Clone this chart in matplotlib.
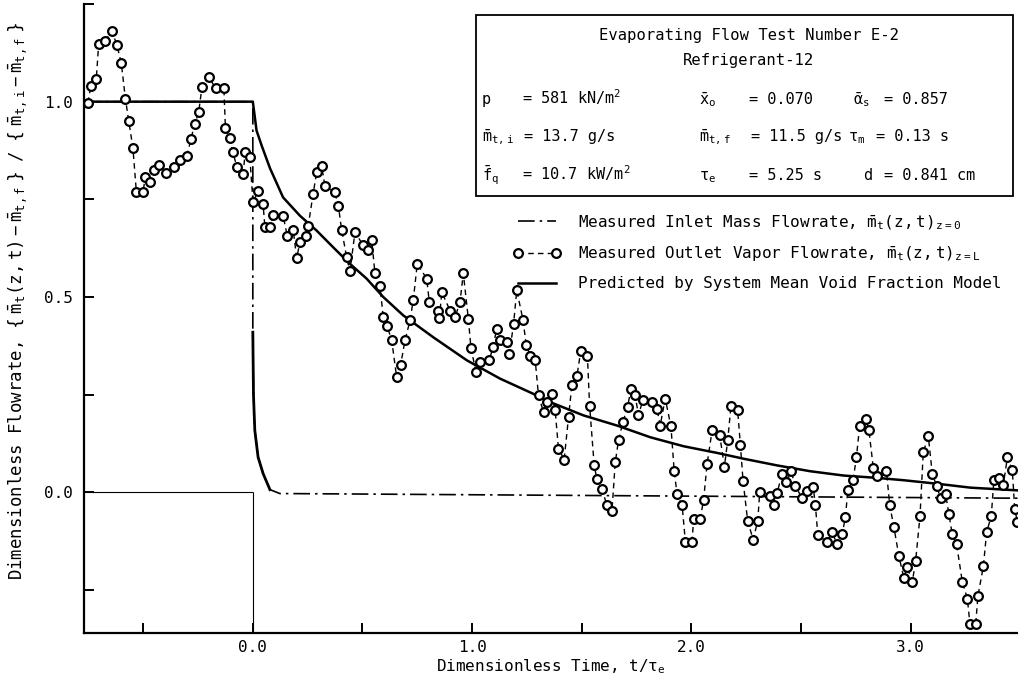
import matplotlib
matplotlib.use('Agg')
import matplotlib.pyplot as plt
from matplotlib.patches import Rectangle
from matplotlib.ticker import MultipleLocator, FormatStrFormatter

plt.rcParams['font.family'] = 'DejaVu Sans Mono'
plt.rcParams['mathtext.default'] = 'regular'
plt.rcParams['font.size'] = 11.5

# Measured outlet vapor flowrate (circles)
t_out = [-0.753, -0.738, -0.714, -0.703, -0.676, -0.642, -0.620, -0.600, -0.581, -0.566,
         -0.547, -0.531, -0.501, -0.490, -0.467, -0.452, -0.429, -0.394, -0.361, -0.330,
         -0.300, -0.282, -0.265, -0.247, -0.232, -0.201, -0.170, -0.132, -0.125, -0.106,
         -0.091, -0.072, -0.044, -0.035, -0.014, 0.001, 0.024, 0.047, 0.055, 0.078,
         0.093, 0.138, 0.157, 0.184, 0.200, 0.215, 0.242, 0.253, 0.275, 0.291,
         0.314, 0.329, 0.374, 0.390, 0.405, 0.428, 0.443, 0.466, 0.504, 0.526,
         0.542, 0.557, 0.580, 0.595, 0.611, 0.633, 0.656, 0.674, 0.694, 0.717,
         0.732, 0.750, 0.793, 0.805, 0.846, 0.851, 0.862, 0.900, 0.922, 0.945,
         0.960, 0.983, 0.995, 1.018, 1.037, 1.079, 1.095, 1.113, 1.128, 1.161,
         1.170, 1.189, 1.204, 1.232, 1.247, 1.265, 1.288, 1.303, 1.326, 1.341,
         1.364, 1.379, 1.394, 1.420, 1.440, 1.455, 1.478, 1.496, 1.526, 1.536,
         1.557, 1.569, 1.592, 1.615, 1.638, 1.653, 1.668, 1.688, 1.709, 1.725,
         1.744, 1.759, 1.779, 1.821, 1.843, 1.858, 1.881, 1.907, 1.922, 1.935,
         1.958, 1.973, 2.003, 2.011, 2.041, 2.056, 2.072, 2.095, 2.129, 2.151,
         2.166, 2.181, 2.211, 2.224, 2.236, 2.257, 2.282, 2.303, 2.312, 2.361,
         2.376, 2.391, 2.414, 2.434, 2.455, 2.475, 2.505, 2.528, 2.556, 2.566,
         2.577, 2.620, 2.642, 2.665, 2.688, 2.703, 2.714, 2.738, 2.753, 2.768,
         2.795, 2.810, 2.830, 2.848, 2.890, 2.905, 2.924, 2.947, 2.969, 2.985,
         3.008, 3.023, 3.043, 3.058, 3.081, 3.099, 3.119, 3.137, 3.160, 3.175,
         3.190, 3.210, 3.236, 3.259, 3.271, 3.297, 3.307, 3.332, 3.347, 3.368,
         3.380, 3.403, 3.423, 3.442, 3.464, 3.475, 3.487]
v_out = [0.997, 1.041, 1.058, 1.148, 1.156, 1.180, 1.145, 1.099, 1.007, 0.951,
         0.882, 0.768, 0.768, 0.808, 0.794, 0.825, 0.838, 0.817, 0.834, 0.851,
         0.862, 0.905, 0.943, 0.973, 1.037, 1.064, 1.034, 1.035, 0.933, 0.906,
         0.870, 0.832, 0.815, 0.870, 0.859, 0.742, 0.772, 0.737, 0.679, 0.679,
         0.711, 0.708, 0.657, 0.672, 0.600, 0.640, 0.657, 0.683, 0.764, 0.819,
         0.836, 0.783, 0.768, 0.734, 0.672, 0.602, 0.566, 0.666, 0.632, 0.621,
         0.646, 0.561, 0.527, 0.448, 0.427, 0.391, 0.295, 0.325, 0.389, 0.440,
         0.493, 0.585, 0.547, 0.487, 0.465, 0.447, 0.512, 0.465, 0.448, 0.487,
         0.561, 0.444, 0.369, 0.308, 0.333, 0.338, 0.372, 0.419, 0.389, 0.384,
         0.353, 0.430, 0.517, 0.442, 0.378, 0.350, 0.338, 0.248, 0.205, 0.231,
         0.252, 0.210, 0.112, 0.084, 0.194, 0.274, 0.297, 0.363, 0.350, 0.222,
         0.069, 0.035, 0.009, -0.033, -0.048, 0.077, 0.133, 0.180, 0.218, 0.265,
         0.248, 0.197, 0.237, 0.231, 0.214, 0.171, 0.240, 0.169, 0.054, -0.005,
         -0.033, -0.127, -0.127, -0.067, -0.067, -0.019, 0.073, 0.159, 0.148, 0.066,
         0.133, 0.222, 0.212, 0.120, 0.029, -0.073, -0.121, -0.073, 0.001, -0.010,
         -0.033, -0.002, 0.048, 0.026, 0.054, 0.015, -0.014, 0.003, 0.014, -0.033,
         -0.110, -0.127, -0.102, -0.133, -0.107, -0.063, 0.007, 0.031, 0.090, 0.171,
         0.188, 0.159, 0.063, 0.043, 0.054, -0.033, -0.089, -0.164, -0.218, -0.191,
         -0.229, -0.176, -0.061, 0.103, 0.143, 0.048, 0.015, -0.014, -0.005, -0.056,
         -0.107, -0.133, -0.229, -0.272, -0.338, -0.338, -0.266, -0.189, -0.102, -0.061,
         0.031, 0.038, 0.020, 0.090, 0.056, -0.042, -0.076]

# Predicted by system mean void fraction model
pred_t = [-0.77, 0.0, 0.017, 0.042, 0.078, 0.138, 0.215, 0.291, 0.367, 0.443, 0.519,
          0.595, 0.686, 0.823, 0.976, 1.128, 1.28, 1.356, 1.508, 1.661, 1.813, 1.965,
          2.117, 2.239, 2.391, 2.543, 2.695, 2.848, 2.969, 3.122, 3.274, 3.49]
pred_v = [1.0, 1.0, 0.926, 0.885, 0.83, 0.755, 0.708, 0.670, 0.627, 0.585, 0.547,
          0.500, 0.453, 0.397, 0.338, 0.291, 0.252, 0.231, 0.197, 0.171, 0.141, 0.118,
          0.101, 0.086, 0.069, 0.054, 0.043, 0.037, 0.031, 0.022, 0.012, 0.005]

# Measured inlet mass flowrate (step down at t=0)
inlet_t = [-0.77, 0.0, 0.0, 0.003, 0.009, 0.024, 0.047, 0.078, 0.123, 3.49]
inlet_v = [1.0, 1.0, 0.41, 0.25, 0.159, 0.09, 0.048, 0.007, -0.003, -0.015]

legend_labels = ['Measured Inlet Mass Flowrate, $\\bar{m}_t(z,t)_{z=0}$',
                 'Measured Outlet Vapor Flowrate, $\\bar{m}_t(z,t)_{z=L}$',
                 'Predicted by System Mean Void Fraction Model']

box_title = ['Evaporating Flow Test Number E-2', 'Refrigerant-12']
box_names = [['p', '$\\bar{x}_o$', '$\\bar{\\alpha}_s$'],
             ['$\\bar{m}_{t,i}$', '$\\bar{m}_{t,f}$', '$\\tau_m$'],
             ['$\\bar{f}_q$', '$\\tau_e$', 'd']]
box_values = [['= 581 kN/m$^2$', '= 0.070', '= 0.857'],
              ['= 13.7 g/s', '= 11.5 g/s', '= 0.13 s'],
              ['= 10.7 kW/m$^2$', '= 5.25 s', '= 0.841 cm']]

W, H = 1018, 687
L, R, T, B = 84, 1018, 4, 633


def axf(px, py):    # pixel position in the picture -> axes fraction
    return (px - L) / (R - L), (B - py) / (B - T)


fig = plt.figure(figsize=(W / 100, H / 100), dpi=100)
ax = fig.add_axes([L / W, 1 - B / H, (R - L) / W, (B - T) / H])
ax.set_xlim(-0.77, 3.49)
ax.set_ylim(-0.36, 1.25)

for s in ['top', 'right']:
    ax.spines[s].set_visible(False)
for s in ['left', 'bottom']:
    ax.spines[s].set_linewidth(1.6)

ax.xaxis.set_major_locator(MultipleLocator(1.0))
ax.xaxis.set_minor_locator(MultipleLocator(0.5))
ax.yaxis.set_major_locator(MultipleLocator(0.5))
ax.yaxis.set_minor_locator(MultipleLocator(0.25))
ax.xaxis.set_major_formatter(FormatStrFormatter('%.1f'))
ax.yaxis.set_major_formatter(FormatStrFormatter('%.1f'))
ax.tick_params(which='both', direction='in', length=7, width=1.4)
ax.tick_params(axis='y', which='major', pad=8)
ax.tick_params(axis='x', which='major', pad=5)

# thin reference lines through the origin
ax.hlines(0, -0.77, 0, color='black', lw=0.8)
ax.vlines(0, -0.36, 0, color='black', lw=0.8)

inlet_line, = ax.plot(inlet_t, inlet_v, color='black', lw=1.2,
                      linestyle=(0, (10, 3, 1.5, 3)))
ax.plot(inlet_t[2:8], inlet_v[2:8], color='black', lw=2.0)
pred_line, = ax.plot(pred_t, pred_v, color='black', lw=1.8)
meas_line, = ax.plot(t_out, v_out, color='black', lw=1.0, linestyle=(0, (4, 3)),
                     marker='o', ms=6.3, mfc='white', mec='black', mew=1.6, zorder=4)

ax.set_xlabel('Dimensionless Time, t/$\\tau_e$', labelpad=2)
ax.set_ylabel('Dimensionless Flowrate, $\\left\\{\\;\\bar{m}_t(z,t)-\\bar{m}_{t,f}\\;\\right\\}'
              '\\;\\;/\\;\\;\\left\\{\\;\\bar{m}_{t,i}-\\bar{m}_{t,f}\\;\\right\\}$',
              fontsize=12.5)
ax.yaxis.set_label_coords(-0.058, axf(0, 301)[1])

# parameter box
x0, y0 = axf(476, 196)
x1, y1 = axf(1013, 15)
ax.add_patch(Rectangle((x0, y0), x1 - x0, y1 - y0, transform=ax.transAxes,
                       facecolor='white', edgecolor='black', lw=1.3, zorder=6))
for txt, py in zip(box_title, [40, 65]):
    ax.text(*axf(749, py), txt, transform=ax.transAxes, ha='center', va='baseline',
            fontsize=11.2, zorder=7)
name_x = [[482, 699, 853], [482, 699, 848], [482, 699, 863]]
val_x = [[522, 749, 884], [524, 751, 876], [522, 749, 884]]
for r, py in enumerate([104, 141, 180]):
    for c in range(3):
        ax.text(*axf(name_x[r][c], py), box_names[r][c], transform=ax.transAxes,
                va='baseline', fontsize=11, zorder=7)
        ax.text(*axf(val_x[r][c], py), box_values[r][c], transform=ax.transAxes,
                va='baseline', fontsize=11, zorder=7)

ax.legend([inlet_line, meas_line, pred_line], legend_labels, loc='upper left',
          bbox_to_anchor=axf(513, 213), frameon=False, numpoints=2,
          handlelength=3.0, handletextpad=1.1, labelspacing=0.8,
          borderpad=0, borderaxespad=0)

fig.savefig('out.png', dpi=100)
